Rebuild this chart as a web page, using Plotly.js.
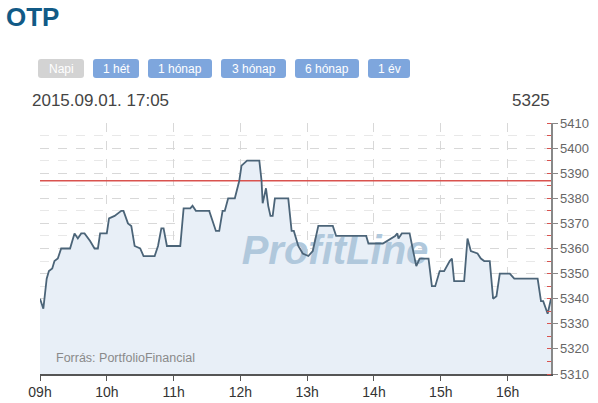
<!DOCTYPE html>
<html>
<head>
<meta charset="utf-8">
<script src="https://cdn.plot.ly/plotly-3.0.1.min.js"></script>
<style>
html,body{margin:0;padding:0;background:#fff;}
#chart{width:598px;height:403px;}
</style>
</head>
<body>
<div id="chart"></div>
<script>
// ---- data ----
var tradeDate = '2015-09-01';
var times = ['09:00','09:03','09:06','09:08','09:11','09:13','09:16','09:19','09:20','09:27',
  '09:31','09:34','09:37','09:40','09:45','09:49','09:52','09:54','10:00','10:02',
  '10:07','10:13','10:15','10:19','10:22','10:25','10:30','10:33','10:43','10:46',
  '10:49','10:51','10:54','11:06','11:09','11:15','11:17','11:20','11:32','11:36',
  '11:38','11:41','11:44','11:46','11:49','11:55','11:59','12:01','12:04','12:06',
  '12:17','12:19','12:20','12:23','12:25','12:27','12:29','12:31','12:43','12:46',
  '12:48','12:52','12:56','13:01','13:05','13:10','13:23','13:26','13:53','13:55',
  '14:08','14:19','14:21','14:22','14:25','14:32','14:37','14:38','14:41','14:49',
  '14:52','14:55','14:59','15:03','15:08','15:10','15:12','15:21','15:24','15:27',
  '15:33','15:36','15:39','15:44','15:47','15:50','15:53','15:57','16:02','16:06',
  '16:27','16:30','16:32','16:36','16:39'];
var prices = [5340,5336,5348,5351,5352,5355,5356,5360,5360,5360,
  5366,5364,5366,5366,5363,5360,5360,5366,5366,5372,
  5373,5375,5375,5370,5369,5361,5360,5357,5357,5361,
  5368,5368,5361,5361,5376,5376,5377,5375,5375,5369,
  5367,5367,5375,5375,5380,5380,5387,5393,5394,5395,
  5395,5387,5378,5384,5377,5373,5373,5380,5380,5367,
  5367,5361,5358,5357,5359,5369,5369,5365,5365,5362,
  5362,5365,5366,5364,5366,5366,5355,5353,5356,5356,
  5345,5345,5351,5351,5355,5356,5347,5347,5364,5359,
  5358,5356,5355,5355,5340,5341,5350,5350,5350,5348,
  5348,5339,5339,5334,5340];
var referenceLevel = 5387;
var yTicks = [5310,5320,5330,5340,5350,5360,5370,5380,5390,5400,5410];
var sessionStart = '09:00', sessionEnd = '16:39';
var stockName = 'OTP';
var lastStamp = '2015.09.01. 17:05';
var lastPrice = '5325';
var buttons = ['Napi','1 hét','1 hónap','3 hónap','6 hónap','1 év'];
var sourceText = 'Forrás: PortfolioFinancial';
var watermark = 'ProfitLine';

// ---- layout helpers (pixel -> paper) ----
var W = 598, H = 403, L = 40, R = 551, T = 123, B = 374;
function px(x){ return (x - L) / (R - L); }
function py(y){ return (B - y) / (B - T); }

var xs = times.map(function(t){ return tradeDate + ' ' + t; });
var xRange = [tradeDate + ' ' + sessionStart, tradeDate + ' ' + sessionEnd];

var traces = [
  { x: xs, y: prices, type: 'scatter', mode: 'lines', fill: 'tozeroy',
    fillcolor: '#e8eff7', line: {width: 0, color: 'rgba(0,0,0,0)'}, hoverinfo: 'skip', showlegend: false },
  { x: [tradeDate + ' 13:25'], y: [5358], type: 'scatter', mode: 'text', text: ['<b><i>' + watermark + '</i></b>'],
    textfont: {family: 'Liberation Sans, Arial, sans-serif', size: 40, color: '#b0c8dc'},
    textposition: 'middle center', hoverinfo: 'skip', showlegend: false },
  { x: xRange, y: [referenceLevel, referenceLevel], type: 'scatter', mode: 'lines',
    line: {color: '#d9534f', width: 1.5}, hoverinfo: 'skip', showlegend: false },
  { x: xs, y: prices, type: 'scatter', mode: 'lines',
    line: {color: '#4b6478', width: 1.8}, hoverinfo: 'skip', showlegend: false }
];

var shapes = [];
var annotations = [];
var btnBoxes = [[38,84],[93,139],[148,212],[221,286],[295,359],[368,410]];
function roundRect(x0,y0,x1,y1,r){
  var p = function(x,y){ return px(x) + ',' + py(y); };
  return 'M ' + p(x0+r,y0) + ' L ' + p(x1-r,y0) + ' Q ' + p(x1,y0) + ' ' + p(x1,y0+r) +
    ' L ' + p(x1,y1-r) + ' Q ' + p(x1,y1) + ' ' + p(x1-r,y1) +
    ' L ' + p(x0+r,y1) + ' Q ' + p(x0,y1) + ' ' + p(x0,y1-r) +
    ' L ' + p(x0,y0+r) + ' Q ' + p(x0,y0) + ' ' + p(x0+r,y0) + ' Z';
}
buttons.forEach(function(b,i){
  var bx = btnBoxes[i];
  shapes.push({type:'path', xref:'paper', yref:'paper', path: roundRect(bx[0],59,bx[1],78,3),
    fillcolor: i === 0 ? '#d3d3d3' : '#7ea6dd', line:{width:0}, layer:'above'});
  annotations.push({xref:'paper', yref:'paper', x: px((bx[0]+bx[1])/2), y: py(68.5),
    xanchor:'center', yanchor:'middle', showarrow:false, text: b,
    font:{family:'Liberation Sans, Arial, sans-serif', size:12, color:'#ffffff'}});
});
annotations.push({xref:'paper', yref:'paper', x: px(4), y: py(17), xanchor:'left', yanchor:'middle',
  showarrow:false, text:'<b>' + stockName + '</b>',
  font:{family:'Liberation Sans, Arial, sans-serif', size:26, color:'#115a86'}});
annotations.push({xref:'paper', yref:'paper', x: px(30), y: py(100), xanchor:'left', yanchor:'middle',
  showarrow:false, text: lastStamp,
  font:{family:'Liberation Sans, Arial, sans-serif', size:17, color:'#444'}});
annotations.push({xref:'paper', yref:'paper', x: px(552), y: py(100), xanchor:'right', yanchor:'middle',
  showarrow:false, text: lastPrice,
  font:{family:'Liberation Sans, Arial, sans-serif', size:17, color:'#444'}});
annotations.push({xref:'paper', yref:'paper', x: px(54), y: py(358), xanchor:'left', yanchor:'middle',
  showarrow:false, text: sourceText,
  font:{family:'Liberation Sans, Arial, sans-serif', size:12.5, color:'#8a8a8a'}});

var layout = {
  width: W, height: H,
  margin: {l: L, r: W - R, t: T, b: H - B, pad: 0},
  paper_bgcolor: '#ffffff', plot_bgcolor: '#ffffff',
  showlegend: false, hovermode: false,
  font: {family: 'Liberation Sans, Arial, sans-serif'},
  xaxis: {
    type: 'date', range: xRange, fixedrange: true,
    tick0: tradeDate + ' 09:00', dtick: 3600000, tickformat: '%Hh',
    ticks: 'outside', ticklen: 5, tickcolor: '#555', tickwidth: 1,
    showline: true, linecolor: '#555', linewidth: 1.5,
    showgrid: true, gridcolor: '#d8d8d8', griddash: 'dash', gridwidth: 1,
    zeroline: false,
    tickfont: {size: 14, color: '#333'}
  },
  yaxis: {
    side: 'right', range: [5310, 5410], fixedrange: true,
    tickvals: yTicks, ticktext: yTicks.map(String),
    ticks: 'outside', ticklen: 5, tickcolor: '#888', tickwidth: 1,
    showline: true, linecolor: '#888', linewidth: 1.5,
    showgrid: true, gridcolor: '#d8d8d8', griddash: 'dash', gridwidth: 1,
    zeroline: false,
    tickfont: {size: 13, color: '#666'},
    minor: {dtick: 5, ticks: 'inside', ticklen: 4, tickcolor: '#d9534f', tickwidth: 1,
      showgrid: true, gridcolor: '#e8e8e8', griddash: 'dash'}
  },
  shapes: shapes,
  annotations: annotations
};

Plotly.newPlot('chart', traces, layout, {displayModeBar: false, staticPlot: true});
</script>
</body>
</html>
